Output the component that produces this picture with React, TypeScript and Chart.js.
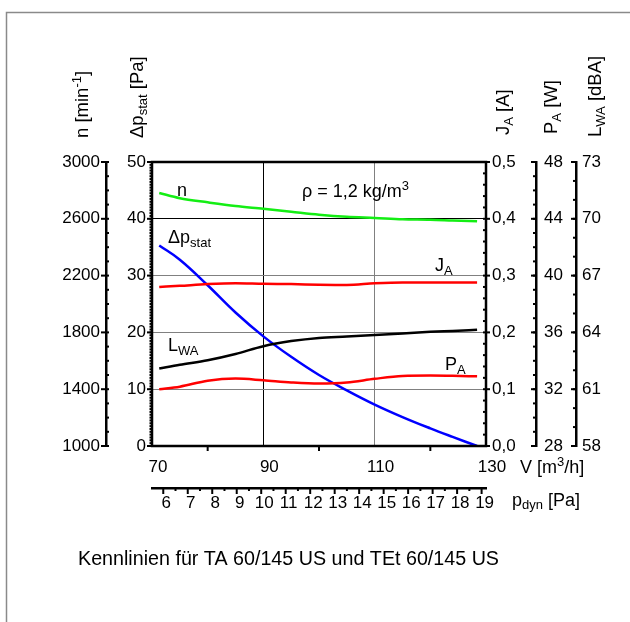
import React, { useEffect, useRef } from 'react';
import { Chart, registerables } from 'chart.js';

Chart.register(...registerables);

const FONT = "'Liberation Sans', Arial, Helvetica, sans-serif";

// ---- data ----
const flow = [71.3, 75, 80, 85, 90, 95, 100, 105, 110, 115, 120, 124, 128.4]; // V [m3/h]
const speed = [2782, 2745, 2716, 2690, 2671, 2650, 2629, 2614, 2606, 2597, 2594, 2588, 2582]; // n [1/min]
const pStat = [35.3, 32.8, 28.3, 23.5, 19.3, 15.7, 12.5, 9.8, 7.3, 5.1, 3.1, 1.6, 0]; // Δp stat [Pa]
const current = [0.28, 0.282, 0.285, 0.2865, 0.2855, 0.285, 0.284, 0.2835, 0.2865, 0.288, 0.288, 0.288, 0.288]; // JA [A]
const power = [32.0, 32.18, 32.6, 32.75, 32.63, 32.48, 32.4, 32.47, 32.73, 32.93, 32.96, 32.94, 32.91]; // PA [W]
const noise = [62.09, 62.29, 62.53, 62.86, 63.27, 63.54, 63.71, 63.78, 63.86, 63.94, 64.03, 64.08, 64.14]; // LWA [dBA]

// ---- tick labels ----
const flowTicks = [70, 90, 110, 130];
const flowMarks = [80, 100, 120];
const pdynTicks = [6, 7, 8, 9, 10, 11, 12, 13, 14, 15, 16, 17, 18, 19];
const speedTicks = [1000, 1400, 1800, 2200, 2600, 3000];
const pStatTicks = [0, 10, 20, 30, 40, 50];
const currentTicks = [0, 0.1, 0.2, 0.3, 0.4, 0.5];
const powerTicks = [28, 32, 36, 40, 44, 48];
const noiseTicks = [58, 61, 64, 67, 70, 73];

const caption = 'Kennlinien für TA 60/145 US und TEt 60/145 US';

function steps(a: number, b: number, st: number): number[] {
  const out: number[] = [];
  const n = Math.round((b - a) / st);
  for (let i = 0; i <= n; i++) out.push(a + i * st);
  return out;
}

type Part = { t: string; s: number; dy?: number };

function drawRich(ctx: CanvasRenderingContext2D, parts: Part[], x: number, y: number) {
  let cx = x;
  for (const p of parts) {
    ctx.font = `${p.s}px ${FONT}`;
    ctx.fillText(p.t, cx, y + (p.dy || 0));
    cx += ctx.measureText(p.t).width;
  }
}

function drawRotated(ctx: CanvasRenderingContext2D, parts: Part[], x: number, y: number) {
  ctx.save();
  ctx.translate(x, y);
  ctx.rotate(-Math.PI / 2);
  drawRich(ctx, parts, 0, 0);
  ctx.restore();
}

function vTicks(ctx: CanvasRenderingContext2D, scale: any, values: number[], x0: number, dir: number, len: number) {
  for (const v of values) {
    const y = scale.getPixelForValue(v);
    ctx.beginPath();
    ctx.moveTo(x0, y);
    ctx.lineTo(x0 + dir * len, y);
    ctx.stroke();
  }
}

function hTicks(ctx: CanvasRenderingContext2D, scale: any, values: number[], y0: number, len: number) {
  for (const v of values) {
    const x = scale.getPixelForValue(v);
    ctx.beginPath();
    ctx.moveTo(x, y0);
    ctx.lineTo(x, y0 + len);
    ctx.stroke();
  }
}

const decor = {
  id: 'decor',
  afterDraw(chart: any) {
    const ctx: CanvasRenderingContext2D = chart.ctx;
    const ca = chart.chartArea;
    const s = chart.scales;
    ctx.save();
    // outer frame
    ctx.strokeStyle = '#8a8a8a';
    ctx.lineWidth = 1.5;
    ctx.strokeRect(6.5, 12.5, 800, 800);
    // plot frame
    ctx.strokeStyle = '#000';
    ctx.lineWidth = 2.5;
    ctx.strokeRect(ca.left, ca.top, ca.right - ca.left, ca.bottom - ca.top);

    // tick marks
    ctx.lineWidth = 2;
    ctx.lineCap = 'butt';
    const sn = s.n, sd = s.dp, sj = s.ja, sp = s.pa, sl = s.lwa, sx = s.x, sq = s.pdyn;
    vTicks(ctx, sn, speedTicks, sn.right, -1, 5);
    vTicks(ctx, sn, steps(1000, 3000, 100), sn.right, 1, 3);
    vTicks(ctx, sd, pStatTicks, sd.right, -1, 5);
    vTicks(ctx, sd, steps(0, 50, 0.5), sd.right, -1, 2.5);
    vTicks(ctx, sj, currentTicks, sj.left, 1, 4);
    vTicks(ctx, sj, steps(0, 0.5, 0.02), sj.left, -1, 3);
    vTicks(ctx, sp, powerTicks, sp.left, -1, 5);
    vTicks(ctx, sp, steps(28, 48, 1), sp.left, -1, 3);
    vTicks(ctx, sl, noiseTicks, sl.left, -1, 5);
    vTicks(ctx, sl, steps(58, 73, 1), sl.left, -1, 3);
    hTicks(ctx, sx, flowMarks, ca.bottom, 5);
    hTicks(ctx, sq, pdynTicks, sq.top, 6);
    hTicks(ctx, sq, steps(6.5, 18.5, 1), sq.top, 3);

    // axis titles (rotated)
    ctx.fillStyle = '#000';
    ctx.textBaseline = 'alphabetic';
    ctx.textAlign = 'left';
    drawRotated(ctx, [{ t: 'n [min', s: 18.5 }, { t: '-1', s: 13, dy: -7 }, { t: ']', s: 18.5 }], 88, 138);
    drawRotated(ctx, [{ t: 'Δp', s: 18.5 }, { t: 'stat', s: 13, dy: 4 }, { t: ' [Pa]', s: 18.5 }], 143, 138);
    drawRotated(ctx, [{ t: 'J', s: 18.5 }, { t: 'A', s: 13, dy: 4 }, { t: ' [A]', s: 18.5 }], 509, 135);
    drawRotated(ctx, [{ t: 'P', s: 18.5 }, { t: 'A', s: 13, dy: 4 }, { t: ' [W]', s: 18.5 }], 557, 134);
    drawRotated(ctx, [{ t: 'L', s: 18.5 }, { t: 'WA', s: 13, dy: 4 }, { t: ' [dBA]', s: 18.5 }], 601, 137);

    // curve labels
    drawRich(ctx, [{ t: 'n', s: 18 }], 177, 196);
    drawRich(ctx, [{ t: 'ρ = 1,2 kg/m', s: 18 }, { t: '3', s: 13, dy: -7 }], 302, 197);
    drawRich(ctx, [{ t: 'Δp', s: 18 }, { t: 'stat', s: 13, dy: 4 }], 168, 243);
    drawRich(ctx, [{ t: 'J', s: 18 }, { t: 'A', s: 13, dy: 4 }], 435, 271);
    drawRich(ctx, [{ t: 'L', s: 18 }, { t: 'WA', s: 13, dy: 4 }], 168, 351);
    drawRich(ctx, [{ t: 'P', s: 18 }, { t: 'A', s: 13, dy: 4 }], 445, 370);

    // x-axis units
    drawRich(ctx, [{ t: 'V [m', s: 18 }, { t: '3', s: 13, dy: -7 }, { t: '/h]', s: 18 }], 520, 473);
    drawRich(ctx, [{ t: 'p', s: 18 }, { t: 'dyn', s: 13, dy: 3 }, { t: ' [Pa]', s: 18 }], 512, 506);

    // caption
    ctx.textAlign = 'center';
    ctx.font = `19.7px ${FONT}`;
    ctx.fillText(caption, 288.5, 565);
    ctx.restore();
  },
};

const tickFont = { size: 17, family: FONT };

function fixedTicks(list: number[]) {
  return (scale: any) => {
    scale.ticks = list.map((v) => ({ value: v }));
  };
}

function yAxis(position: string, weight: number, min: number, max: number, list: number[], width: number, pad: number, border: boolean, fmt?: (v: number) => string) {
  return {
    type: 'linear',
    axis: 'y',
    position,
    weight,
    min,
    max,
    afterBuildTicks: fixedTicks(list),
    afterFit: (scale: any) => {
      scale.width = width;
    },
    ticks: {
      font: tickFont,
      color: '#000',
      padding: pad,
      autoSkip: false,
      callback: fmt ? (v: any) => fmt(Number(v)) : (v: any) => String(v),
    },
    grid: { display: false, drawTicks: false, drawOnChartArea: false },
    border: { display: border, color: '#000', width: 2.5 },
  };
}

export default function App() {
  const ref = useRef<HTMLCanvasElement | null>(null);

  useEffect(() => {
    if (!ref.current) return;
    const mk = (vals: number[]) => flow.map((x, i) => ({ x, y: vals[i] }));
    const chart = new Chart(ref.current, {
      type: 'line',
      data: {
        datasets: [
          { label: 'n', data: mk(speed), yAxisID: 'n', borderColor: '#14ee14', borderWidth: 2.5, pointRadius: 0, cubicInterpolationMode: 'monotone' },
          { label: 'JA', data: mk(current), yAxisID: 'ja', borderColor: '#ff0000', borderWidth: 2.5, pointRadius: 0, cubicInterpolationMode: 'monotone' },
          { label: 'LWA', data: mk(noise), yAxisID: 'lwa', borderColor: '#000000', borderWidth: 2.5, pointRadius: 0, cubicInterpolationMode: 'monotone' },
          { label: 'PA', data: mk(power), yAxisID: 'pa', borderColor: '#ff0000', borderWidth: 2.5, pointRadius: 0, cubicInterpolationMode: 'monotone' },
          { label: 'dp', data: mk(pStat), yAxisID: 'dp', borderColor: '#0000ff', borderWidth: 2.5, pointRadius: 0, tension: 0.4 },
        ],
      } as any,
      options: {
        responsive: false,
        animation: false,
        devicePixelRatio: 1,
        layout: { padding: { left: 60, right: 24, top: 162, bottom: 104 } },
        plugins: { legend: { display: false }, tooltip: { enabled: false }, title: { display: false } },
        scales: {
          x: {
            type: 'linear',
            axis: 'x',
            position: 'bottom',
            weight: 0,
            min: 70,
            max: 130,
            afterBuildTicks: fixedTicks(flowTicks),
            afterFit: (scale: any) => {
              scale.height = 42;
            },
            ticks: { font: tickFont, color: '#000', padding: 11, labelOffset: 6, maxRotation: 0, autoSkip: false },
            grid: {
              drawTicks: false,
              lineWidth: 1,
              color: (c: any) => (c.tick && c.tick.value === 90 ? '#000' : c.tick && c.tick.value === 110 ? '#808080' : 'rgba(0,0,0,0)'),
            },
            border: { display: false },
          },
          pdyn: {
            type: 'linear',
            axis: 'x',
            position: 'bottom',
            weight: 1,
            min: 5.54,
            max: 19.18,
            afterBuildTicks: fixedTicks(pdynTicks),
            afterFit: (scale: any) => {
              scale.height = 30;
            },
            ticks: { font: tickFont, color: '#000', padding: 5, labelOffset: 3, maxRotation: 0, autoSkip: false },
            grid: { display: false, drawTicks: false, drawOnChartArea: false },
            border: { display: true, color: '#000', width: 2.5 },
          },
          n: yAxis('left', 2, 1000, 3000, speedTicks, 46, 6, true),
          dp: {
            ...yAxis('left', 1, 0, 50, pStatTicks, 46, 6, false),
            grid: {
              display: true,
              drawTicks: false,
              drawOnChartArea: true,
              lineWidth: 1,
              color: (c: any) => {
                const v = c.tick ? c.tick.value : -1;
                if (v === 40) return '#000';
                if (v === 10 || v === 20 || v === 30) return '#808080';
                return 'rgba(0,0,0,0)';
              },
            },
          },
          ja: yAxis('right', 0, 0, 0.5, currentTicks, 50, 6, false, (v) => v.toFixed(1).replace('.', ',')),
          pa: yAxis('right', 1, 28, 48, powerTicks, 40, 8, true),
          lwa: yAxis('right', 2, 58, 73, noiseTicks, 30, 6, true),
        },
      } as any,
      plugins: [decor],
    });
    return () => chart.destroy();
  }, []);

  return (
    <div style={{ position: 'absolute', left: 0, top: 0, width: 630, height: 622, background: '#fff' }}>
      <canvas ref={ref} width={630} height={622} style={{ display: 'block' }} />
    </div>
  );
}
